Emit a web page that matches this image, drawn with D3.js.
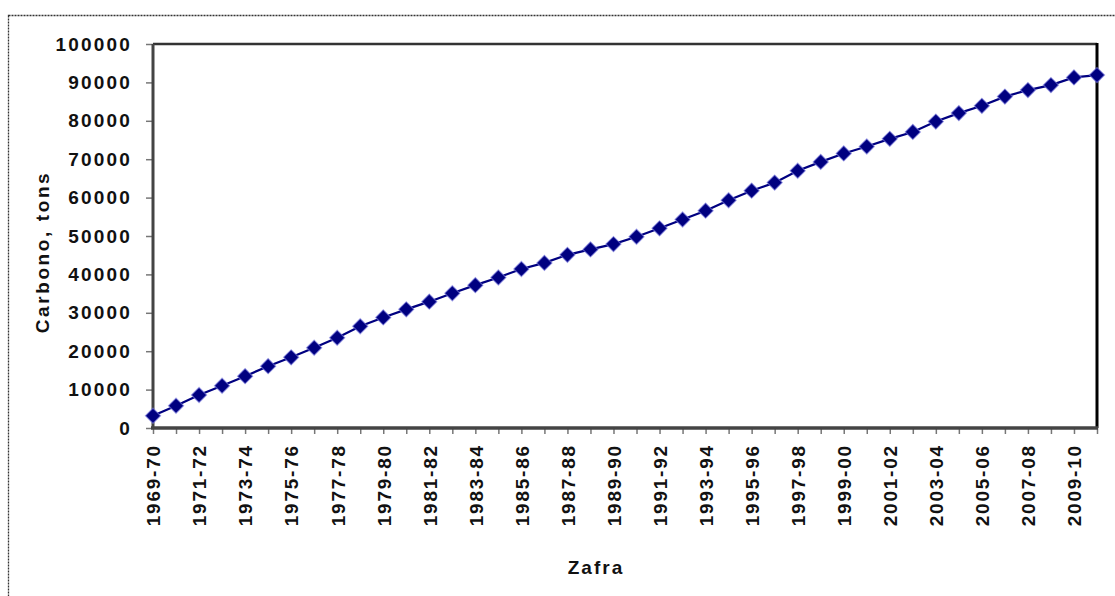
<!DOCTYPE html>
<html>
<head>
<meta charset="utf-8">
<script src="https://cdn.jsdelivr.net/npm/d3@7"></script>
<style>
  html, body { margin: 0; padding: 0; background: #fff; }
  svg { display: block; }
  text { font-family: "Liberation Sans", Arial, sans-serif; }
</style>
</head>
<body>
<svg id="chart" width="1115" height="596"></svg>
<script>
const categories = [
  "1969-70","1970-71","1971-72","1972-73","1973-74","1974-75","1975-76","1976-77",
  "1977-78","1978-79","1979-80","1980-81","1981-82","1982-83","1983-84","1984-85",
  "1985-86","1986-87","1987-88","1988-89","1989-90","1990-91","1991-92","1992-93",
  "1993-94","1994-95","1995-96","1996-97","1997-98","1998-99","1999-00","2000-01",
  "2001-02","2002-03","2003-04","2004-05","2005-06","2006-07","2007-08","2008-09",
  "2009-10","2010-11"
];
const carbono = [
  3200, 5800, 8600, 11000, 13500, 16100, 18400, 20900,
  23500, 26500, 28800, 30900, 32900, 35100, 37200, 39200,
  41400, 43000, 45100, 46500, 47900, 49800, 52000, 54300,
  56600, 59300, 61800, 63900, 67000, 69300, 71500, 73300,
  75300, 77100, 79800, 82000, 83900, 86300, 88000, 89300,
  91300, 91900
];
const yTicks = [0, 10000, 20000, 30000, 40000, 50000, 60000, 70000, 80000, 90000, 100000];
const xTickLabels = categories.filter((d, i) => i % 2 === 0);
const xTitle = "Zafra";
const yTitle = "Carbono, tons";

const svg = d3.select("#chart");
const L = 153, R = 1097, T = 44, B = 428;

// outer dotted frame
svg.append("rect")
  .attr("x", 8.5).attr("y", 15.5).attr("width", 1200).attr("height", 700)
  .attr("fill", "none").attr("stroke", "#333").attr("stroke-width", 1.3)
  .attr("stroke-dasharray", "2,1");

const x = d3.scalePoint().domain(categories).range([L, R]);
const y = d3.scaleLinear().domain([0, 100000]).range([B, T]);

// y axis
const yAxis = svg.append("g")
  .attr("transform", `translate(${L},0)`)
  .call(d3.axisLeft(y).tickValues(yTicks).tickSize(7).tickPadding(14).tickFormat(d3.format("d")));
yAxis.select(".domain").remove();
yAxis.selectAll(".tick line").attr("stroke", "#777").attr("stroke-width", 1.5);
yAxis.selectAll(".tick text")
  .attr("font-size", 19).attr("font-weight", "bold").attr("fill", "#111")
  .attr("letter-spacing", "2.2px")
  .attr("font-family", "Liberation Sans, Arial, sans-serif");

// x axis
const xAxis = svg.append("g")
  .attr("transform", `translate(0,${B})`)
  .call(d3.axisBottom(x).tickSize(6).tickFormat(d => xTickLabels.includes(d) ? d : ""));
xAxis.select(".domain").remove();
xAxis.selectAll(".tick line").attr("stroke", "#777").attr("stroke-width", 1.5);
xAxis.selectAll(".tick text")
  .attr("font-size", 19).attr("font-weight", "bold").attr("fill", "#111")
  .attr("letter-spacing", "1.8px")
  .attr("font-family", "Liberation Sans, Arial, sans-serif")
  .attr("text-anchor", "end")
  .attr("transform", "rotate(-90)")
  .attr("x", -16).attr("y", 0).attr("dy", "0.36em");

// plot frame
svg.append("line").attr("x1", L).attr("x2", R).attr("y1", T).attr("y2", T)
  .attr("stroke", "#333").attr("stroke-width", 2.5);
svg.append("line").attr("x1", L).attr("x2", L).attr("y1", T).attr("y2", B)
  .attr("stroke", "#444").attr("stroke-width", 3);
svg.append("line").attr("x1", R).attr("x2", R).attr("y1", T - 1).attr("y2", B)
  .attr("stroke", "#000").attr("stroke-width", 3);
svg.append("line").attr("x1", L - 2).attr("x2", R + 1).attr("y1", B).attr("y2", B)
  .attr("stroke", "#444").attr("stroke-width", 3.5);

// line
svg.append("path")
  .datum(carbono)
  .attr("fill", "none")
  .attr("stroke", "#000080")
  .attr("stroke-width", 2.2)
  .attr("d", d3.line().x((d, i) => x(categories[i])).y(d => y(d)));

// markers
const sym = d3.symbol().type(d3.symbolSquare).size(115);
svg.append("g").selectAll("path")
  .data(carbono)
  .join("path")
  .attr("d", sym)
  .attr("transform", (d, i) => `translate(${x(categories[i])},${y(d)}) rotate(45)`)
  .attr("fill", "#000080")
  .attr("stroke", "#7b7be0")
  .attr("stroke-opacity", 0.6)
  .attr("stroke-width", 1.2);

// titles
svg.append("text")
  .attr("x", 596).attr("y", 574)
  .attr("text-anchor", "middle")
  .attr("font-size", 19).attr("font-weight", "bold").attr("fill", "#111")
  .attr("letter-spacing", "2px")
  .text(xTitle);

svg.append("text")
  .attr("transform", "translate(49,252) rotate(-90)")
  .attr("text-anchor", "middle")
  .attr("font-size", 19).attr("font-weight", "bold").attr("fill", "#111")
  .attr("letter-spacing", "2.6px")
  .text(yTitle);
</script>
</body>
</html>
